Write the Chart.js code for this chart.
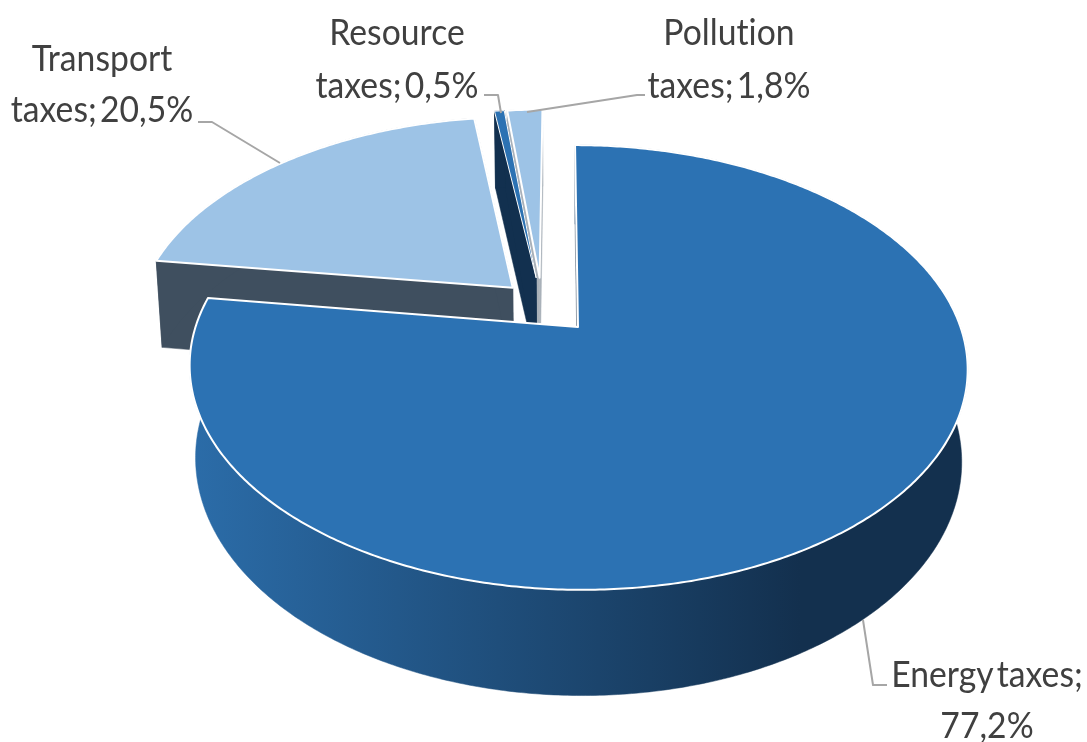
<!DOCTYPE html>
<html>
<head>
<meta charset="utf-8">
<style>html,body{margin:0;padding:0;background:#fff}canvas{display:block}</style>
<script src="https://cdn.jsdelivr.net/npm/chart.js@4"></script>
</head>
<body>
<canvas id="c" width="1087" height="742"></canvas>
<script>
const categories = ["Energy taxes", "Transport taxes", "Resource taxes", "Pollution taxes"];
const shares = [77.2, 20.5, 0.5, 1.8];
const shareLabels = ["77,2%", "20,5%", "0,5%", "1,8%"];
const explode = [14.5, 11.2, 13, 13];
const topColors = ["#2c72b3", "#9dc3e6", "#2c72b3", "#9dc3e6"];
const wallColors = ["#5a6b7c", "#3f4f5f", "#12304f", "#a9b1b9"];

// Tilted-view projection of the pie's disc onto the page
const view = {cx: 578, cy: 327, sx: 382.5, sy: 215, persp: 0.182, depth: 92, back: 0.015, skew: 3.5};
function project(u, v, lower) {
  const w = 1 - view.persp * v + (lower ? view.back : 0);
  return [view.cx + (view.sx * u + view.skew * v) / w,
          view.cy + (view.sy * v + (lower ? view.depth : 0)) / w];
}

// Text block layout: centre x and baselines
const labelLines = [
  {lines: ["Energy taxes;", "77,2%"], x: 987, y: [687, 738]},
  {lines: ["Transport", "taxes; 20,5%"], x: 102, y: [71, 122]},
  {lines: ["Resource", "taxes; 0,5%"], x: 397, y: [45, 98]},
  {lines: ["Pollution", "taxes; 1,8%"], x: 729, y: [45, 98]}
];
const leaders = [
  [[863, 620], [873, 685], [887, 685]],
  [[198, 122], [212, 122], [280, 163]],
  [[484, 95], [498, 95], [501, 113]],
  [[527, 112], [637, 95], [645, 95]]
];

const pie3d = {
  id: 'pie3d',
  beforeDatasetDraw(chart, args) {
    const ctx = chart.ctx;
    const arcs = chart.getDatasetMeta(args.index).data;
    const shift = el => {
      const mid = (el.startAngle + el.endAngle) / 2, o = el.options.offset / 100;
      return [Math.cos(mid) * o, Math.sin(mid) * o];
    };
    const pivot = shift(arcs[0]);
    const geom = arcs.map(el => {
      const s = shift(el);
      const ou = s[0] - pivot[0], ov = s[1] - pivot[1];
      const rim = [];
      const steps = Math.max(2, Math.ceil((el.endAngle - el.startAngle) / 0.01));
      for (let i = 0; i <= steps; i++) {
        const a = el.startAngle + (el.endAngle - el.startAngle) * i / steps;
        rim.push([Math.cos(a) + ou, Math.sin(a) + ov]);
      }
      return {ou, ov, rim};
    });
    const path = pts => {
      ctx.beginPath();
      pts.forEach((p, i) => i ? ctx.lineTo(p[0], p[1]) : ctx.moveTo(p[0], p[1]));
      ctx.closePath();
    };
    // back to front
    [3, 2, 1, 0].forEach(i => {
      const g = geom[i];
      const apexT = project(g.ou, g.ov, false), apexB = project(g.ou, g.ov, true);
      const rimT = g.rim.map(p => project(p[0], p[1], false));
      const rimB = g.rim.map(p => project(p[0], p[1], true));
      let outerFill = wallColors[i];
      if (i === 0) {
        outerFill = ctx.createLinearGradient(195, 0, 800, 0);
        outerFill.addColorStop(0, "#2b6ca8");
        outerFill.addColorStop(1, "#13304e");
      }
      ctx.lineWidth = 0.5;
      // radial walls
      ctx.fillStyle = wallColors[i];
      ctx.strokeStyle = wallColors[i];
      path([apexT, rimT[0], rimB[0], apexB]); ctx.fill(); ctx.stroke();
      if (i !== 0) {
        path([apexT, rimT[rimT.length - 1], rimB[rimB.length - 1], apexB]); ctx.fill(); ctx.stroke();
      }
      // outer wall
      ctx.fillStyle = outerFill;
      ctx.strokeStyle = outerFill;
      path(rimT.concat(rimB.slice().reverse())); ctx.fill(); ctx.stroke();
      // top face
      path([apexT].concat(rimT));
      ctx.fillStyle = topColors[i];
      ctx.fill();
      ctx.strokeStyle = "#ffffff";
      ctx.lineWidth = i === 2 ? 1 : 2;
      ctx.lineJoin = "round";
      ctx.stroke();
    });
    return false;
  },
  afterDraw(chart) {
    const ctx = chart.ctx;
    ctx.save();
    ctx.strokeStyle = "#a6a6a6";
    ctx.lineWidth = 2;
    ctx.lineJoin = "round";
    leaders.forEach(l => {
      ctx.beginPath();
      l.forEach((p, i) => i ? ctx.lineTo(p[0], p[1]) : ctx.moveTo(p[0], p[1]));
      ctx.stroke();
    });
    ctx.fillStyle = "#404040";
    ctx.font = "37px Lato";
    ctx.letterSpacing = "0.02px";
    ctx.wordSpacing = "-6px";
    ctx.textAlign = "center";
    ctx.textBaseline = "alphabetic";
    labelLines.forEach(b => {
      b.lines.forEach((t, i) => {
        ctx.save();
        ctx.translate(b.x, b.y[i]);
        ctx.scale(0.91, 1);
        ctx.fillText(t, 0, 0);
        ctx.restore();
      });
    });
    ctx.restore();
  }
};

new Chart(document.getElementById('c'), {
  type: 'pie',
  data: {
    labels: categories,
    datasets: [{data: shares, backgroundColor: topColors, offset: explode, borderColor: "#fff", borderWidth: 1}]
  },
  options: {
    responsive: false,
    animation: false,
    plugins: {legend: {display: false}, tooltip: {enabled: false}}
  },
  plugins: [pie3d]
});
</script>
</body>
</html>
